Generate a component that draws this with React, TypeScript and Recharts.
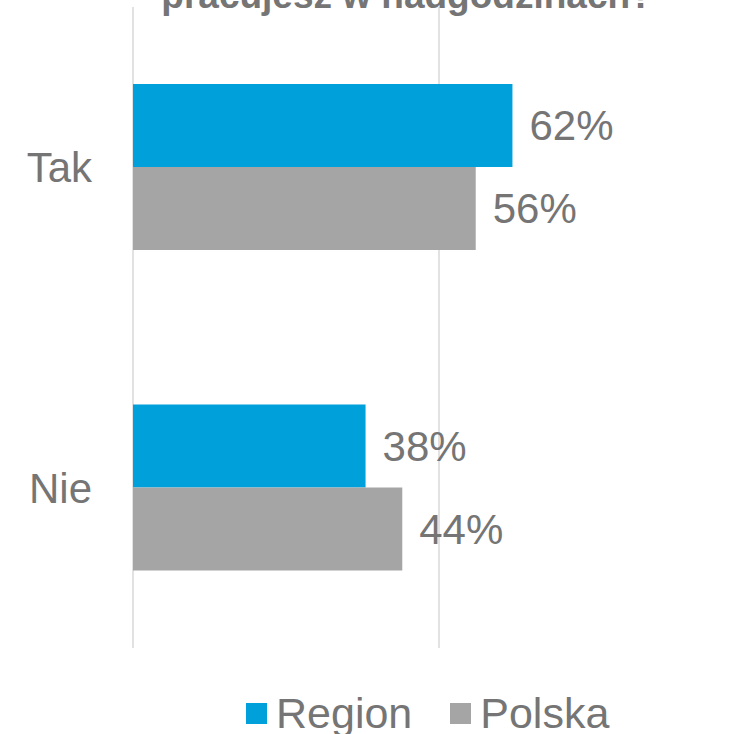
import { Bar, BarChart, CartesianGrid, LabelList, XAxis, YAxis } from "recharts";

// Wartości (%)
const categories = ["Tak", "Nie"];
const regionValues = [62, 38];
const polskaValues = [56, 44];
const seriesNames = ["Region", "Polska"];
const seriesKeys = ["region", "polska"];
const seriesColors = ["#00A0DA", "#A5A5A5"];
const xTicks = [0, 50, 100];
const titleText = "pracujesz w nadgodzinach?";

const data = categories.map((category, i) => ({
  category,
  region: regionValues[i],
  polska: polskaValues[i],
}));

const FONT = "'Liberation Sans', Arial, sans-serif";
const TEXT = "#757575";

export default function App() {
  return (
    <div
      style={{
        position: "fixed",
        left: 0,
        top: 0,
        width: 740,
        height: 734,
        overflow: "hidden",
        background: "#ffffff",
        fontFamily: FONT,
      }}
    >
      <BarChart
        width={760}
        height={734}
        data={data}
        layout="vertical"
        margin={{ top: 7, right: 15, bottom: 86, left: 0 }}
        barCategoryGap="24%"
        barGap={0}
      >
        <CartesianGrid horizontal={false} stroke="#e2e2e2" strokeWidth={2} />
        <XAxis type="number" domain={[0, 100]} ticks={xTicks} hide />
        <YAxis
          type="category"
          dataKey="category"
          width={133}
          axisLine={false}
          tickLine={false}
          tickMargin={35}
          tick={{ fontSize: 42, fill: TEXT, fontFamily: FONT }}
        />
        {seriesKeys.map((key, i) => (
          <Bar
            key={key}
            dataKey={key}
            name={seriesNames[i]}
            fill={seriesColors[i]}
            isAnimationActive={false}
          >
            <LabelList
              dataKey={key}
              position="right"
              offset={17}
              formatter={(v: any) => `${v}%`}
              fill={TEXT}
              fontSize={42}
              fontFamily={FONT}
            />
          </Bar>
        ))}
      </BarChart>

      <svg
        width={740}
        height={40}
        style={{ position: "absolute", left: 0, top: 0, overflow: "visible" }}
      >
        <text
          x={407}
          y={8}
          textAnchor="middle"
          fontSize={37}
          fontWeight="bold"
          fill={TEXT}
          fontFamily={FONT}
        >
          {titleText}
        </text>
      </svg>

      <div
        style={{
          position: "absolute",
          left: 246,
          top: 691,
          display: "flex",
          alignItems: "center",
          lineHeight: "44px",
          fontSize: 43,
          color: TEXT,
        }}
      >
        {seriesNames.map((name, i) => (
          <div
            key={name}
            style={{ display: "flex", alignItems: "center", marginLeft: i === 0 ? 0 : 38 }}
          >
            <span
              style={{
                display: "inline-block",
                width: 21,
                height: 21,
                background: seriesColors[i],
                marginRight: 9,
              }}
            />
            <span>{name}</span>
          </div>
        ))}
      </div>
    </div>
  );
}
